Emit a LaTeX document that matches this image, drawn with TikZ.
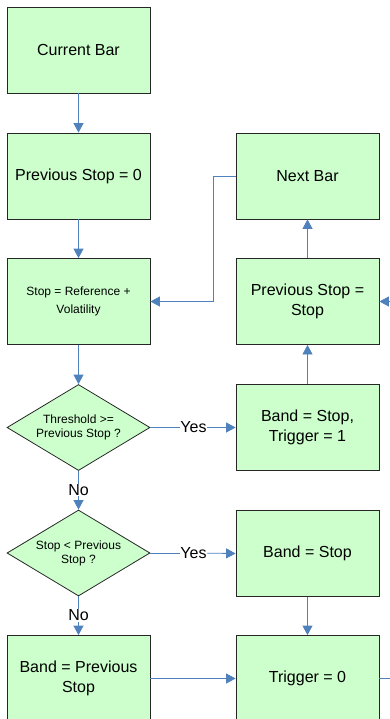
\documentclass[tikz,border=0pt]{standalone}
\usepackage{fontspec}
\setmainfont{Liberation Sans}
\usetikzlibrary{shapes.geometric,arrows.meta}
\definecolor{boxfill}{RGB}{204,255,204}
\definecolor{flow}{RGB}{79,129,189}
\begin{document}
\begin{tikzpicture}[x=1pt,y=-1pt,
 box/.style={draw=black!85,fill=boxfill,line width=0.8pt,minimum width=143pt,minimum height=86pt,inner sep=0pt,align=center,font=\fontsize{16}{19.3}\selectfont},
 smallbox/.style={box,font=\fontsize{12}{18}\selectfont},
 decision/.style={diamond,draw=black!85,fill=boxfill,line width=0.8pt,minimum width=143pt,minimum height=86pt,inner sep=0pt,aspect=1.66,align=center,font=\fontsize{12}{13.8}\selectfont},
 lbl/.style={inner sep=0.5pt,font=\fontsize{16}{19}\selectfont},
 flowline/.style={draw=flow,line width=0.8pt},
 arr/.style={flowline,-{Triangle[length=9.5pt,width=10pt]}}
]
\useasboundingbox (0,0) rectangle (390,719);
\clip (0,0) rectangle (390,719);

\node[box] (cur) at (78.5,50) {Current Bar};
\node[box] (prev0) at (78.5,176) {Previous Stop = 0};
\node[smallbox] (stopref) at (78.5,301.5) {Stop = Reference +\\Volatility};
\node[decision] (d1) at (78.5,427.5) {Threshold >=\\Previous Stop ?};
\node[decision] (d2) at (78.5,553) {Stop < Previous\\Stop ?};
\node[box] (bandprev) at (78.5,678.5) {Band = Previous\\Stop};

\node[box] (next) at (307.5,176) {Next Bar};
\node[box] (prevstop) at (307.5,301.5) {Previous Stop =\\Stop};
\node[box] (band1) at (307.5,427.5) {Band = Stop,\\Trigger = 1};
\node[box] (band2) at (307.5,553.5) {Band = Stop};
\node[box] (trig0) at (307.5,678.5) {Trigger = 0};

\node[lbl] (yes1) at (193.5,427.5) {Yes};
\node[lbl] (yes2) at (193.5,553) {Yes};
\node[lbl] (no1) at (78.5,490) {No};
\node[lbl] (no2) at (78.5,615.5) {No};

\coordinate (offR1) at (395,301.5);
\coordinate (offR2) at (395,678.5);

\draw[arr] (cur) -- (prev0);
\draw[arr] (prev0) -- (stopref);
\draw[arr] (stopref) -- (d1);
\draw[flowline] (d1) -- (no1);
\draw[arr] (no1) -- (d2);
\draw[flowline] (d2) -- (no2);
\draw[arr] (no2) -- (bandprev);
\draw[flowline] (d1.east) -- (yes1);
\draw[arr] (yes1) -- (band1.west);
\draw[flowline] (d2.east) -- (yes2);
\draw[arr] (yes2) -- (band2.west);
\draw[arr] (band1) -- (prevstop);
\draw[arr] (prevstop) -- (next);
\draw[arr] (next.west) -- ++(-22,0) |- (stopref.east);
\draw[arr] (band2) -- (trig0);
\draw[arr] (bandprev.east) -- (trig0.west);
\draw[arr] (offR1) -- (prevstop.east);
\draw[flowline] (trig0.east) -- (offR2);
\end{tikzpicture}
\end{document}
